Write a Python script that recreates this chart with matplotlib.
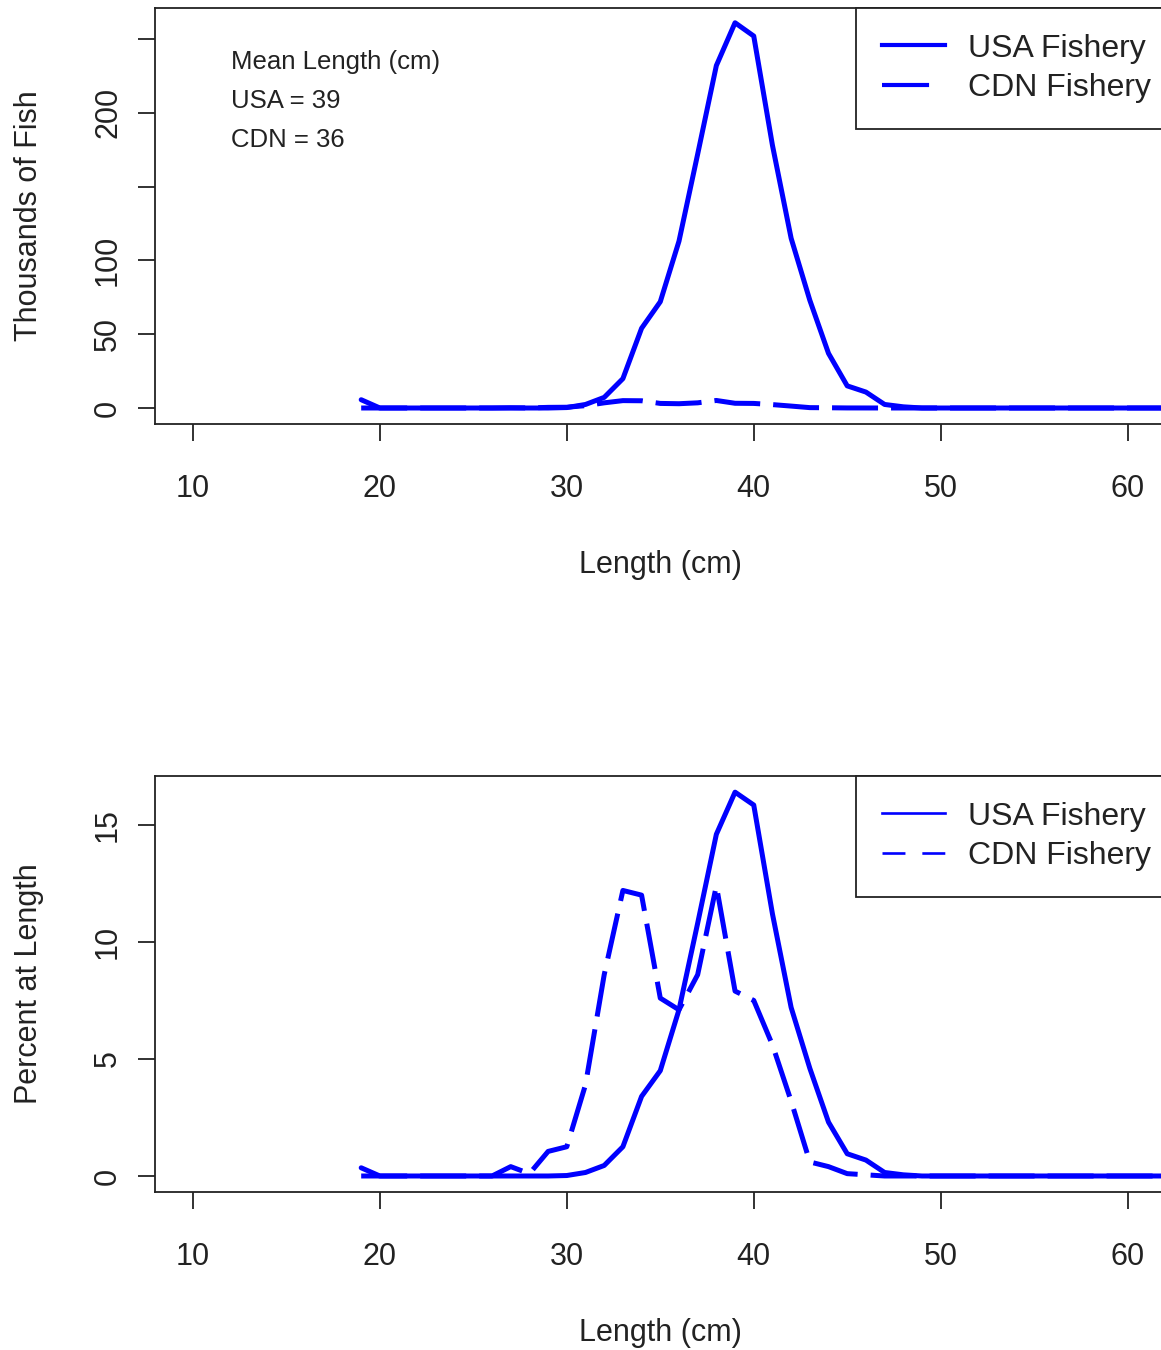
import matplotlib
matplotlib.use("Agg")
import matplotlib.pyplot as plt
from matplotlib.lines import Line2D

# ---------------- data ----------------
lengths = [19, 20, 21, 22, 23, 24, 25, 26, 27, 28, 29, 30, 31, 32, 33, 34, 35, 36, 37, 38,
           39, 40, 41, 42, 43, 44, 45, 46, 47, 48, 49, 50, 51, 52, 53, 54, 55, 56, 57, 58,
           59, 60, 61, 62, 63, 64, 65]

usa_thousands = [5.6, 0, 0, 0, 0, 0, 0, 0, 0, 0, 0, 0.3, 2.4, 7.2, 19.9, 54, 72, 113, 172, 232,
                 261, 252, 178, 115, 73, 37, 15, 10.8, 2.4, 0.8, 0, 0, 0, 0, 0, 0, 0, 0, 0, 0,
                 0, 0, 0, 0, 0, 0, 0]
cdn_thousands = [0, 0, 0, 0, 0, 0, 0, 0, 0.16, 0.04, 0.43, 0.51, 1.6, 3.5, 5.0, 4.9, 3.1, 2.9, 3.5, 5.1,
                 3.2, 3.1, 2.3, 1.3, 0.25, 0.16, 0.04, 0.02, 0, 0, 0, 0, 0, 0, 0, 0, 0, 0, 0, 0,
                 0, 0, 0, 0, 0, 0, 0]

usa_percent = [0.35, 0, 0, 0, 0, 0, 0, 0, 0, 0, 0, 0.02, 0.15, 0.45, 1.25, 3.4, 4.5, 7.1, 10.8, 14.6,
               16.4, 15.85, 11.2, 7.2, 4.6, 2.3, 0.95, 0.68, 0.15, 0.05, 0, 0, 0, 0, 0, 0, 0, 0, 0, 0,
               0, 0, 0, 0, 0, 0, 0]
cdn_percent = [0, 0, 0, 0, 0, 0, 0, 0, 0.4, 0.1, 1.05, 1.25, 3.9, 8.6, 12.2, 12.0, 7.6, 7.1, 8.6, 12.4,
               7.9, 7.5, 5.6, 3.2, 0.6, 0.4, 0.1, 0.05, 0, 0, 0, 0, 0, 0, 0, 0, 0, 0, 0, 0,
               0, 0, 0, 0, 0, 0, 0]

x_ticks = [10, 20, 30, 40, 50, 60]
top_y_ticks = [0, 50, 100, 150, 200, 250]
top_y_labels = ["0", "50", "100", "", "200", ""]
bot_y_ticks = [0, 5, 10, 15]
bot_y_labels = ["0", "5", "10", "15"]
series_names = ["USA Fishery", "CDN Fishery"]
mean_text = ["Mean Length (cm)", "USA = 39", "CDN = 36"]

# ---------------- style ----------------
plt.rcParams["font.family"] = ["Liberation Sans", "DejaVu Sans"]
BLUE = "#0000FF"
FRAME = "#222222"
TXT = "#222222"
W, H = 1161, 1350
LW = 3.6
DASH = (0, (9.2, 2.6))

fig = plt.figure(figsize=(W / 100, H / 100), dpi=100)


def rect(left, top, right, bottom):
    return [left / W, 1 - bottom / H, (right - left) / W, (bottom - top) / H]


ax1 = fig.add_axes(rect(155, 8, 1165, 424))
ax2 = fig.add_axes(rect(155, 776, 1165, 1192))


def style(ax, yt, ylab, ylabel):
    for s in ax.spines.values():
        s.set_color(FRAME)
        s.set_linewidth(1.3)
    ax.set_xlim(7.97, 62.0)
    ax.set_xticks(x_ticks)
    ax.set_xticklabels([str(t) for t in x_ticks])
    ax.set_yticks(yt)
    ax.set_yticklabels(ylab, rotation=90, va="center")
    ax.tick_params(axis="both", direction="out", length=12, width=1.3, color=FRAME,
                   labelsize=22, labelcolor=TXT)
    ax.tick_params(axis="x", pad=24)
    ax.tick_params(axis="y", pad=11)
    ax.set_xlabel("Length (cm)", fontsize=22, color=TXT, labelpad=33)
    ax.set_ylabel(ylabel, fontsize=22, color=TXT, labelpad=35)


def legend(ax, handles, top_px):
    leg = ax.legend(handles, series_names, loc="upper left",
                    bbox_to_anchor=(856 / W, 1 - top_px / H), bbox_transform=fig.transFigure,
                    fontsize=23, frameon=True, fancybox=False, edgecolor=FRAME, framealpha=1,
                    borderaxespad=0, borderpad=0.8, handlelength=2.0, handletextpad=0.72,
                    labelspacing=0.3, labelcolor=TXT)
    leg.get_frame().set_linewidth(1.3)
    return leg


# ---- top panel ----
ax1.plot(lengths, usa_thousands, color=BLUE, lw=LW, solid_joinstyle="round",
         solid_capstyle="round")
ax1.plot(lengths, cdn_thousands, color=BLUE, lw=LW, linestyle=DASH, dash_joinstyle="round")
ax1.set_ylim(-10.84, 271.0)
style(ax1, top_y_ticks, top_y_labels, "Thousands of Fish")
for i, t in enumerate(mean_text):
    ax1.text(0.0752, 0.870 - i * 0.0937, t, transform=ax1.transAxes, fontsize=18.5,
             va="center", ha="left", color=TXT)

legend(ax1, [Line2D([], [], color=BLUE, lw=3),
             Line2D([], [], color=BLUE, lw=3, linestyle=(0, (11.3, 6)))], 8)

# ---- bottom panel ----
ax2.plot(lengths, usa_percent, color=BLUE, lw=LW, solid_joinstyle="round",
         solid_capstyle="round")
ax2.plot(lengths, cdn_percent, color=BLUE, lw=LW, linestyle=DASH, dash_joinstyle="round")
ax2.set_ylim(-0.684, 17.09)
style(ax2, bot_y_ticks, bot_y_labels, "Percent at Length")

legend(ax2, [Line2D([], [], color=BLUE, lw=1.9),
             Line2D([], [], color=BLUE, lw=1.9, linestyle=(0, (8.7, 6.4)))], 776)

fig.savefig("out.png", dpi=100)
